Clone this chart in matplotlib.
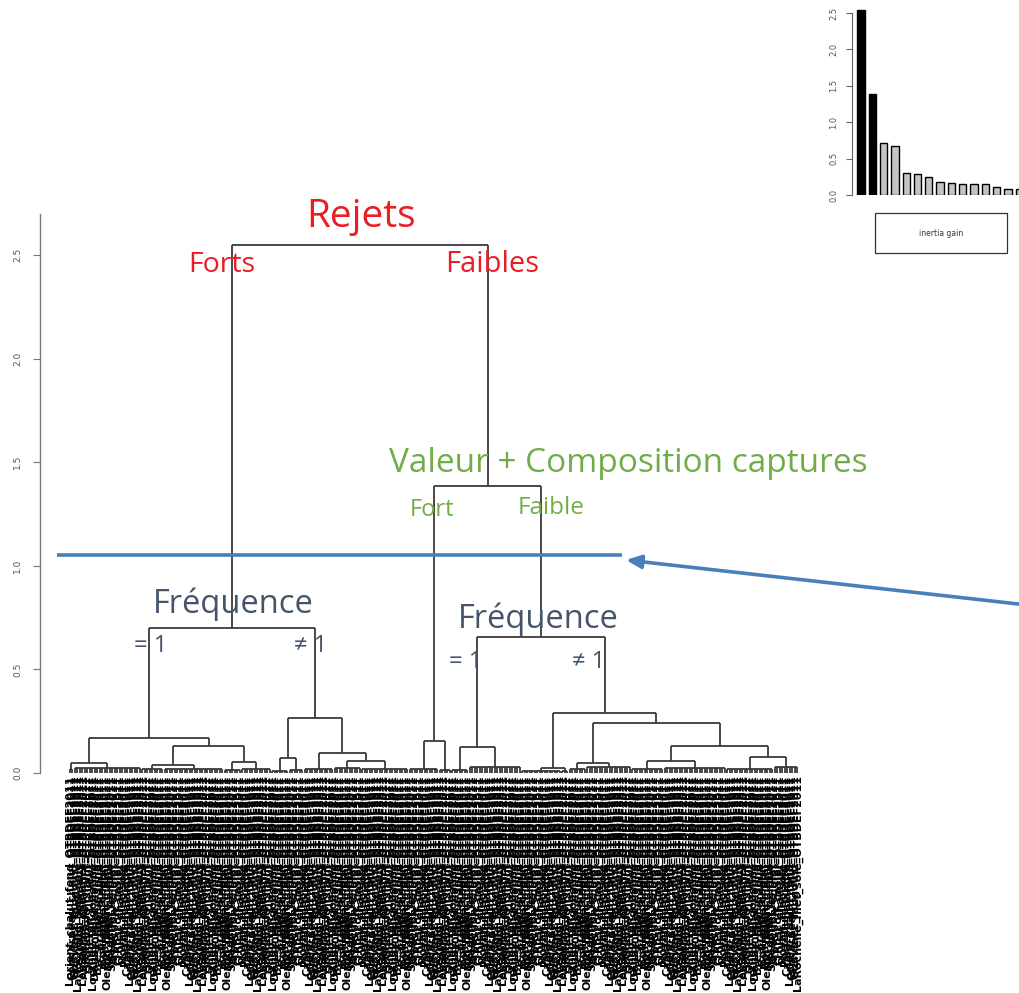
import matplotlib
matplotlib.use("Agg")
import matplotlib.pyplot as plt
from matplotlib.collections import LineCollection
from matplotlib.patches import Rectangle

W, H = 1020, 993

# ---------------- data ----------------
# inertia gain of successive merges (inset bar chart)
inertia_gain = [2.546, 1.381, 0.714, 0.668, 0.308, 0.290, 0.244, 0.184,
                0.170, 0.147, 0.147, 0.147, 0.106, 0.083, 0.083]
n_kept = 2  # highlighted (black) bars
inset_ticks = [0.0, 0.5, 1.0, 1.5, 2.0, 2.5]
inset_legend = "inertia gain"

# terminal leaf groups: (number of leaves, merge height)
groups = {
    "T1": (2, 0.020), "T2": (27, 0.025), "T3": (9, 0.020), "T4": (24, 0.020),
    "T5": (7, 0.015), "T6": (12, 0.020), "T7": (7, 0.010), "T8": (6, 0.015),
    "T9": (12, 0.020), "T10": (11, 0.025), "T11": (19, 0.020), "T12": (12, 0.020),
    "T13": (5, 0.015), "T14": (7, 0.015), "T15": (21, 0.030), "T16a": (16, 0.012),
    "T16b": (3, 0.010), "T17": (7, 0.020), "T18": (18, 0.030), "T19": (13, 0.020),
    "T20": (25, 0.025), "T21": (19, 0.020), "T22": (10, 0.030),
}
# hierarchical tree: (height, left, right)
tree = (2.55,
        (0.70,
         (0.17, (0.05, "T1", "T2"),
                (0.13, (0.04, "T3", "T4"), (0.055, "T5", "T6"))),
         (0.265, (0.07, "T7", "T8"),
                 (0.095, "T9", (0.06, "T10", "T11")))),
        (1.385,
         (0.155, "T12", "T13"),
         (0.655,
          (0.125, "T14", "T15"),
          (0.29, (0.025, "T16a", "T16b"),
           (0.24, (0.05, "T17", "T18"),
            (0.13, (0.06, "T19", "T20"), (0.075, "T21", "T22")))))))

y_ticks = [0.0, 0.5, 1.0, 1.5, 2.0, 2.5]
cut_height = 1.05

# leaf label parts
label_names = [
    "Lorient_chalut_fond_", "Concarneau_chalut_", "Guilvinec_langoust_",
    "LaRochelle_filet_sole_", "Lesconil_jumeaux_", "LesSables_chalutier_",
    "Audierne_palangre_", "StGuenole_chalut_", "Quiberon_fileyeur_",
    "Loctudy_langoustine_", "Douarnenez_senne_", "Brest_chalut_fond_",
    "Erquy_drague_", "Boulogne_chalut_", "Noirmoutier_filet_",
    "Oleron_chalut_merlu_", "Keroman_bentho_", "StJeanDeLuz_filet_",
    "Arcachon_chalut_", "Roscoff_casier_", "Croisic_chalutier_",
    "Royan_filet_sole_", "PortLouis_chalut_", "Camaret_palangre_",
]
label_suffix = "OTBDEF2011"

# ---------------- layout helpers ----------------
def fx(px):
    return px / W

def fy(py):
    return 1 - py / H

fig = plt.figure(figsize=(W / 100, H / 100), dpi=100)
fig.patch.set_facecolor("white")

# main dendrogram axes: x in leaf units, y in merge height
px_per_unit = 207.2
ax = fig.add_axes([fx(40), fy(773), fx(800) - fx(40), (773 - 213) / H])
ax.set_ylim(0, 560 / px_per_unit)
leaf_px0, leaf_step = 70, 2.5
ax.set_xlim((40 - leaf_px0) / leaf_step, (800 - leaf_px0) / leaf_step)

segments = []
leaf_positions = []
counter = [0]

def draw(node):
    if isinstance(node, str):
        n, h = groups[node]
        ks = list(range(counter[0], counter[0] + n))
        counter[0] += n
        leaf_positions.extend(ks)
        for k in ks:
            segments.append([(k, 0), (k, h)])
        if n > 1:
            segments.append([(ks[0], h), (ks[-1], h)])
        return (ks[0] + ks[-1]) / 2, h
    h, left, right = node
    xl, hl = draw(left)
    xr, hr = draw(right)
    segments.append([(xl, hl), (xl, h)])
    segments.append([(xr, hr), (xr, h)])
    segments.append([(xl, h), (xr, h)])
    return (xl + xr) / 2, h

draw(tree)
ax.add_collection(LineCollection(segments, colors="#3a3a3a", linewidths=1.3,
                                 clip_on=False, zorder=3))

# leaf labels (overlapping, as in the original)
for i, k in enumerate(leaf_positions):
    lab = label_names[i % len(label_names)] + label_suffix
    ax.text(k, -0.012, lab, rotation=90, ha="center", va="top", fontsize=8,
            fontweight="bold", color="black", family="DejaVu Sans", clip_on=False)

for s in ["top", "right", "bottom"]:
    ax.spines[s].set_visible(False)
ax.spines["left"].set_bounds(0, 2.7)
ax.spines["left"].set_color("#777777")
ax.spines["left"].set_linewidth(1.0)
ax.set_xticks([])
ax.set_yticks(y_ticks)
ax.set_yticklabels([f"{t:.1f}" for t in y_ticks], rotation=90, va="center",
                   fontsize=6.5, color="#555555")
ax.tick_params(axis="y", direction="out", length=5, color="#777777", pad=8)
ax.patch.set_alpha(0)

# cut line
ax.plot([(57 - leaf_px0) / leaf_step, (622 - leaf_px0) / leaf_step],
        [cut_height, cut_height], color="#4a7ebb", lw=2.6, clip_on=False,
        solid_capstyle="butt", zorder=5)
ax.annotate("", xy=(626, H - 560), xycoords="figure pixels",
            xytext=(1045, H - 607), textcoords="figure pixels",
            arrowprops=dict(arrowstyle="-|>,head_length=0.9,head_width=0.4",
                            color="#4a7ebb", lw=2.6, shrinkA=0, shrinkB=0),
            annotation_clip=False, zorder=6)

# annotations
fam = ["Open Sans", "DejaVu Sans"]
red, green, slate = "#ec1c24", "#70ad47", "#44546a"
def note(px, py, s, size, color):
    fig.text(fx(px), fy(py), s, ha="center", va="baseline", fontsize=size,
             color=color, family=fam, zorder=2)

note(361, 227, "Rejets", 28, red)
note(222, 272, "Forts", 20.5, red)
note(492, 272, "Faibles", 21, red)
note(628, 472, "Valeur + Composition captures", 24, green)
note(432, 516, "Fort", 17, green)
note(551, 514, "Faible", 17.5, green)
note(233, 613, "Fréquence", 23.5, slate)
note(151, 652, "= 1", 17, slate)
note(311, 652, "≠ 1", 17, slate)
note(538, 628, "Fréquence", 23.5, slate)
note(466, 668, "= 1", 17, slate)
note(589, 668, "≠ 1", 17, slate)

# inset: inertia gain bar chart
ipx = 72.8
bar_step = 11.3
ax2 = fig.add_axes([fx(852), fy(195), fx(1020) - fx(852), 2.6 * ipx / H])
ax2.set_ylim(0, 2.6)
ax2.set_xlim((852 - 861) / bar_step, (1020 - 861) / bar_step)
colors = ["black" if i < n_kept else "#c4c4c4" for i in range(len(inertia_gain))]
ax2.bar(range(len(inertia_gain)), inertia_gain, width=0.65, color=colors,
        edgecolor="black", linewidth=1.0)
for s in ["top", "right", "bottom"]:
    ax2.spines[s].set_visible(False)
ax2.spines["left"].set_bounds(0, 2.5)
ax2.spines["left"].set_color("#666666")
ax2.set_xticks([])
ax2.set_yticks(inset_ticks)
ax2.set_yticklabels([f"{t:.1f}" for t in inset_ticks], rotation=90, va="center",
                    fontsize=6, color="#555555")
ax2.tick_params(axis="y", direction="out", length=4, color="#666666", pad=6)
ax2.patch.set_alpha(0)

fig.add_artist(Rectangle((fx(875), fy(253)), fx(1007) - fx(875), (253 - 213) / H,
                         transform=fig.transFigure, facecolor="white",
                         edgecolor="#333333", linewidth=0.9))
fig.text(fx(941), fy(233), inset_legend, ha="center", va="center", fontsize=5.5,
         color="#333333")

fig.savefig("out.png", dpi=100)
